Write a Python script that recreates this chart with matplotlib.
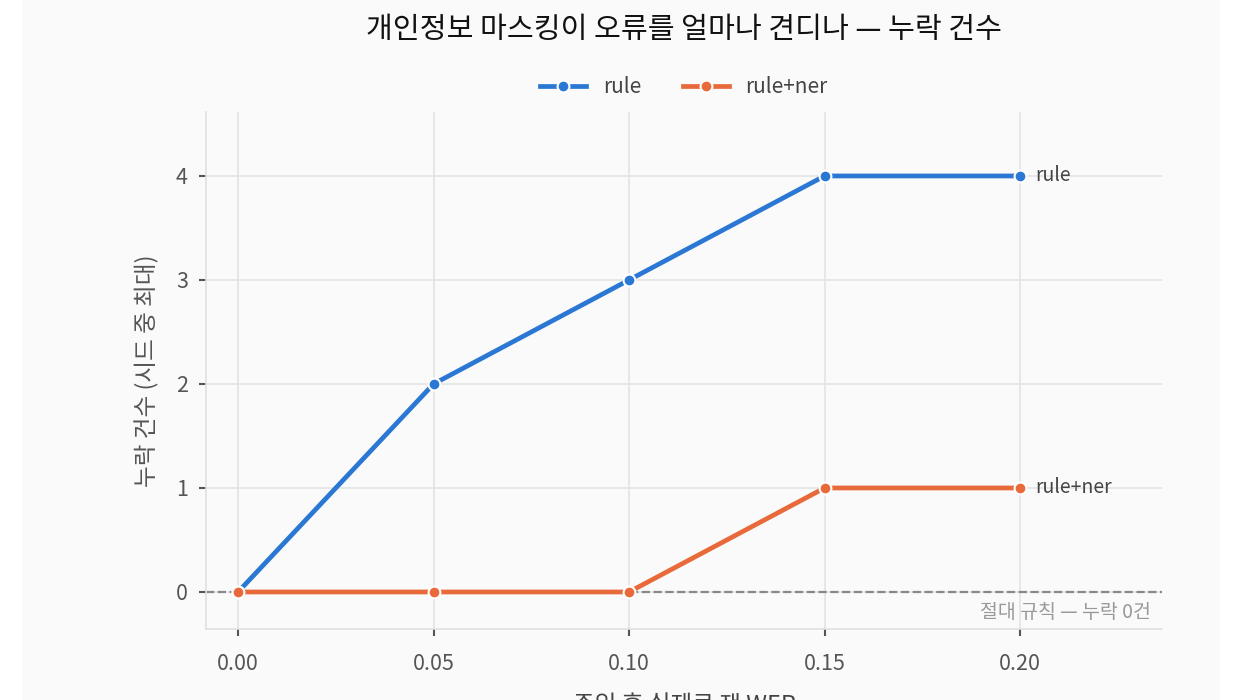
import matplotlib
matplotlib.use("Agg")
import matplotlib.pyplot as plt
from matplotlib.patches import Rectangle

plt.rcParams['font.family'] = ['Noto Sans CJK KR', 'DejaVu Sans']

wer = [0.00, 0.05, 0.10, 0.15, 0.20]
rule = [0, 2, 3, 4, 4]
rule_ner = [0, 0, 0, 1, 1]
series_names = ["rule", "rule+ner"]
colors = ["#2a77d4", "#e8693a"]

fig = plt.figure(figsize=(12.44, 7.0), dpi=100, facecolor="white")
fig.patches.append(Rectangle((22/1244, 0), (1220-22)/1244, 1, transform=fig.transFigure,
                             facecolor="#fafafa", edgecolor="none", zorder=-10))
ax = fig.add_axes([206/1244, 1-629/700, (1162-206)/1244, (629-112)/700])
ax.set_facecolor("#fafafa")

for vals, name, c in zip([rule, rule_ner], series_names, colors):
    ax.plot(wer, vals, color=c, lw=3.4, marker="o", ms=8.5, mec="white", mew=1.5, label=name, zorder=3)
    ax.text(wer[-1] + 0.004, vals[-1], name, color="#444444", fontsize=14, va="center")

ax.axhline(0, color="#888888", ls="--", lw=1.6, zorder=2)
ax.text(0.2335, -0.1, "절대 규칙 — 누락 0건", color="#999999", fontsize=14, ha="right", va="top")

ax.set_xlim(-0.0082, 0.2363)
ax.set_ylim(-0.356, 4.615)
ax.set_xticks(wer)
ax.set_xticklabels([f"{v:.2f}" for v in wer])
ax.set_yticks([0, 1, 2, 3, 4])
ax.grid(True, color="#e4e4e4", lw=1.2)
ax.set_axisbelow(True)
for s in ["top", "right"]:
    ax.spines[s].set_visible(False)
for s in ["left", "bottom"]:
    ax.spines[s].set_color("#e0e0e0")
    ax.spines[s].set_linewidth(1.2)
ax.tick_params(colors="#555555", labelsize=15.5, length=5, width=1.5, pad=8)
ax.tick_params(axis="x", pad=12)
ax.set_xlabel("주입 후 실제로 잰 WER", fontsize=17, color="#444444", labelpad=14)
ax.set_ylabel("누락 건수 (시드 중 최대)", fontsize=17, color="#555555", labelpad=12)

fig.text(684/1244, 1-30/700, "개인정보 마스킹이 오류를 얼마나 견디나 — 누락 건수", fontsize=21,
         ha="center", va="center", color="#111111")
fig.legend(loc="center", bbox_to_anchor=(684/1244, 1-87/700), ncol=2, frameon=False,
           fontsize=15, labelcolor="#444444", handlelength=2.2, columnspacing=2.0)

fig.savefig("out.png", dpi=100, facecolor="white")
